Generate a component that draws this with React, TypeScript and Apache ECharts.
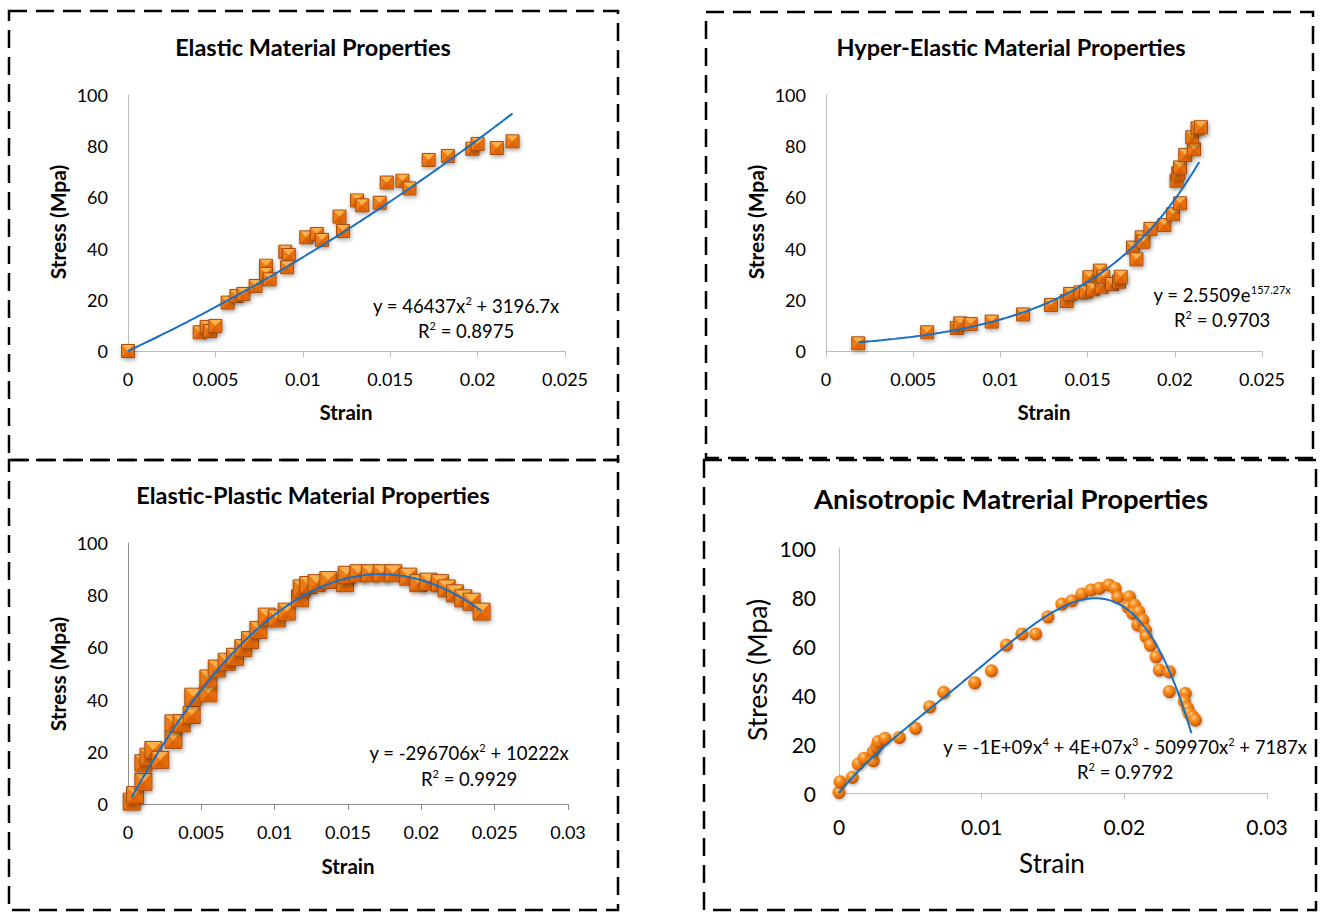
import React, { useEffect, useRef } from "react";
import * as echarts from "echarts";

const FONT = "Lato, 'Open Sans', sans-serif";

// ---------- Elastic Material Properties ----------
const elasticStrain = [0, 0.0041, 0.0045, 0.0047, 0.005, 0.0057, 0.0062, 0.0066, 0.0073, 0.0079, 0.0079, 0.0081, 0.009, 0.0092, 0.0091, 0.0102, 0.0108, 0.0111, 0.0121, 0.0123, 0.0131, 0.0134, 0.0144, 0.0148, 0.0157, 0.0161, 0.0172, 0.0183, 0.0197, 0.02, 0.0211, 0.022];
const elasticStress = [0, 7.3, 9.4, 7.8, 9.8, 18.9, 21.5, 22.3, 25.4, 33.3, 30.1, 28.0, 38.8, 37.5, 32.7, 44.4, 45.7, 43.4, 52.5, 46.9, 58.8, 56.9, 57.9, 65.8, 66.5, 63.5, 74.6, 76.2, 79.0, 80.9, 79.3, 81.9];
const elasticFit = [46437, 3196.7, 0]; // y = 46437x² + 3196.7x
const elasticFitRange = [0, 0.022];

// ---------- Hyper-Elastic Material Properties ----------
const hyperStrain = [0.00185, 0.0058, 0.0075, 0.0077, 0.0083, 0.0095, 0.0113, 0.0129, 0.0138, 0.014, 0.0146, 0.0149, 0.0151, 0.0153, 0.0157, 0.0158, 0.0159, 0.0164, 0.0168, 0.0169, 0.0176, 0.0178, 0.0181, 0.0182, 0.0186, 0.0194, 0.0199, 0.0203, 0.0201, 0.0202, 0.0203, 0.0206, 0.0211, 0.021, 0.0213, 0.0215];
const hyperStress = [3.0, 7.3, 9.0, 10.8, 10.5, 11.5, 14.3, 18.0, 19.5, 22.3, 22.9, 23.2, 28.8, 24.1, 31.4, 25.1, 29.0, 26.2, 27.1, 29.0, 40.4, 35.8, 44.4, 42.7, 47.7, 49.2, 53.4, 57.7, 66.5, 69.4, 71.7, 76.6, 78.8, 83.5, 87.0, 87.4];
const hyperFit = [2.5509, 157.27]; // y = 2.5509e^(157.27x)
const hyperFitRange = [0.00185, 0.0214];

// ---------- Elastic-Plastic Material Properties ----------
const plasticStrain = [0.00025, 0.00048, 0.00105, 0.00105, 0.0014, 0.00173, 0.0022, 0.0031, 0.0031, 0.00366, 0.00434, 0.00445, 0.00548, 0.00548, 0.00605, 0.00673, 0.0073, 0.00786, 0.00832, 0.00889, 0.00946, 0.01014, 0.01082, 0.01173, 0.01184, 0.01229, 0.01286, 0.01366, 0.0148, 0.01491, 0.01571, 0.0165, 0.0173, 0.01809, 0.01911, 0.0198, 0.02048, 0.02127, 0.02173, 0.02229, 0.02286, 0.02343, 0.02411];
const plasticStress = [0.9, 3.4, 8.5, 15.6, 18.1, 20.7, 16.9, 24.5, 30.9, 30.9, 34.1, 41.1, 42.4, 48.1, 51.9, 54.5, 56.4, 59.7, 62.8, 66.7, 71.8, 71.1, 73.7, 78.8, 82.6, 83.9, 84.6, 85.8, 84.6, 87.8, 88.4, 88.4, 88.4, 88.4, 87.1, 84.6, 85.2, 84.6, 82.6, 80.7, 78.8, 77.5, 73.7];
const plasticFit = [-296706, 10222, 0]; // y = -296706x² + 10222x
const plasticFitRange = [0.00025, 0.0241];

// ---------- Anisotropic Matrerial Properties ----------
const anisoStrain = [0.0, 0.00007, 0.00093, 0.00135, 0.00175, 0.0024, 0.0024, 0.00264, 0.00275, 0.00322, 0.00422, 0.00536, 0.00636, 0.00734, 0.00951, 0.01068, 0.01173, 0.01282, 0.01378, 0.01464, 0.01562, 0.01632, 0.01702, 0.01767, 0.01825, 0.01891, 0.01935, 0.01954, 0.02035, 0.02024, 0.02071, 0.02059, 0.02101, 0.02094, 0.02129, 0.02148, 0.02152, 0.02182, 0.02222, 0.02245, 0.02315, 0.02315, 0.02427, 0.0242, 0.02443, 0.02455, 0.02478, 0.02497];
const anisoStress = [0.3, 4.6, 6.4, 11.8, 14.2, 13.2, 16.9, 18.9, 21.0, 22.3, 22.7, 26.4, 35.2, 41.1, 45.0, 49.9, 60.4, 64.9, 64.9, 71.9, 77.1, 78.5, 81.2, 82.9, 83.6, 84.9, 83.6, 79.9, 80.1, 76.0, 76.7, 73.3, 74.0, 68.6, 70.6, 66.5, 63.8, 60.4, 55.6, 50.2, 49.5, 41.4, 40.7, 37.3, 34.6, 32.5, 31.2, 29.8];
// quartic trend (shown rounded as -1E+09x⁴ + 4E+07x³ - 509970x² + 7187x)
const anisoFit = [-1.3876e9, 4.4759e7, -509970, 7187, 0];
const anisoFitRange = [0, 0.0247];

const chartTitles = ["Elastic Material Properties", "Hyper-Elastic Material Properties", "Elastic-Plastic Material Properties", "Anisotropic Matrerial Properties"];
const xMax = [0.025, 0.025, 0.03, 0.03];
const xStep = [0.005, 0.005, 0.005, 0.01];
const yMax = 100;
const yStep = 20;

const zip = (xs: number[], ys: number[]) => xs.map((x, i) => [x, ys[i]]);
const poly = (c: number[]) => (x: number) => c.reduce((acc, k) => acc * x + k, 0);
const expo = (c: number[]) => (x: number) => c[0] * Math.exp(c[1] * x);
const curve = (f: (x: number) => number, r: number[], n = 150) =>
  Array.from({ length: n + 1 }, (_, i) => {
    const x = r[0] + ((r[1] - r[0]) * i) / n;
    return [x, f(x)];
  });

function bevelSquare(size: number) {
  return (_params: any, api: any) => {
    const p = api.coord([api.value(0), api.value(1)]);
    const cx = p[0];
    const cy = p[1];
    const h = size / 2;
    const l = cx - h, r = cx + h, t = cy - h, b = cy + h;
    return {
      type: "group",
      children: [
        {
          type: "rect",
          shape: { x: l, y: t, width: size, height: size },
          style: { fill: "#ee7a14", stroke: "#a64d10", lineWidth: 1, shadowBlur: 4, shadowOffsetX: 1, shadowOffsetY: 2, shadowColor: "rgba(0,0,0,0.35)" },
        },
        { type: "polygon", shape: { points: [[l + 0.6, t + 0.6], [r - 0.6, t + 0.6], [cx, cy]] }, style: { fill: "#fbb24c" } },
        { type: "polygon", shape: { points: [[r - 0.6, t + 0.6], [r - 0.6, b - 0.6], [cx, cy]] }, style: { fill: "#e76d0c" } },
        { type: "polygon", shape: { points: [[l + 0.6, b - 0.6], [r - 0.6, b - 0.6], [cx, cy]] }, style: { fill: "#dc6206" } },
      ],
    };
  };
}

const grids = [
  { left: 128, top: 95, width: 437, height: 256 },
  { left: 826, top: 95, width: 436, height: 256 },
  { left: 128, top: 543, width: 440, height: 261 },
  { left: 839, top: 548, width: 428, height: 245 },
];
const axisGray = ["#bdbdbd", "#bdbdbd", "#8c8c8c", "#bdbdbd"];
const tickFont = [18, 18, 18, 21];
const xLabelMargin = [19, 19, 19, 23];
const yLabelMargin = [20, 20, 20, 23];

function txt(x: number, y: number, text: string, fontSize: number, bold: boolean, rotation = 0) {
  return {
    type: "text",
    x,
    y,
    rotation,
    style: {
      text,
      fontFamily: FONT,
      fontSize,
      fontWeight: bold ? "bold" : "normal",
      fill: "#000",
      align: "center",
      verticalAlign: "middle",
      textAlign: "center",
      textVerticalAlign: "middle",
    },
  };
}

function rich(x: number, y: number, text: string, fontSize: number) {
  const base = { fontFamily: FONT, fontSize, fill: "#000", color: "#000", lineHeight: fontSize + 4 };
  return {
    type: "text",
    x,
    y,
    style: {
      text,
      align: "center",
      verticalAlign: "middle",
      textAlign: "center",
      textVerticalAlign: "middle",
      rich: {
        n: base,
        s: { fontFamily: FONT, fontSize: Math.round(fontSize * 0.62), fill: "#000", color: "#000", lineHeight: Math.round(fontSize * 0.7), verticalAlign: "top" },
      },
    },
  };
}

function box(x: number, y: number, w: number, h: number) {
  return {
    type: "rect",
    shape: { x, y, width: w, height: h },
    style: { fill: "none", stroke: "#000", lineWidth: 2.5, lineDash: [18, 9] },
    silent: true,
  };
}

export default function App() {
  const ref = useRef<HTMLDivElement>(null);
  useEffect(() => {
    if (!ref.current) return;
    const chart = echarts.init(ref.current, undefined, { renderer: "svg" });
    const xAxis = grids.map((_, i) => ({
      type: "value",
      gridIndex: i,
      min: 0,
      max: xMax[i],
      interval: xStep[i],
      axisLine: { show: true, onZero: false, lineStyle: { color: axisGray[i], width: 1 } },
      axisTick: { show: true, length: 6, lineStyle: { color: axisGray[i] } },
      splitLine: { show: false },
      axisLabel: {
        fontFamily: FONT,
        fontSize: tickFont[i],
        color: "#000",
        margin: xLabelMargin[i],
        formatter: (v: number) => String(parseFloat(v.toFixed(4))),
      },
    }));
    const yAxis = grids.map((_, i) => ({
      type: "value",
      gridIndex: i,
      min: 0,
      max: yMax,
      interval: yStep,
      axisLine: { show: true, lineStyle: { color: axisGray[i], width: 1 } },
      axisTick: { show: false },
      splitLine: { show: false },
      axisLabel: { fontFamily: FONT, fontSize: tickFont[i], color: "#000", margin: yLabelMargin[i] },
    }));
    const trend = (i: number, data: number[][]) => ({
      type: "line",
      xAxisIndex: i,
      yAxisIndex: i,
      data,
      showSymbol: false,
      symbol: "none",
      smooth: false,
      silent: true,
      lineStyle: { color: "#1b6fc2", width: 2 },
      z: 5,
    });
    const squares = (i: number, data: number[][], size: number) => ({
      type: "custom",
      coordinateSystem: "cartesian2d",
      xAxisIndex: i,
      yAxisIndex: i,
      data,
      encode: { x: 0, y: 1 },
      renderItem: bevelSquare(size),
      silent: true,
      z: 3,
    });
    const sphereFill = {
      type: "radial",
      x: 0.38,
      y: 0.32,
      r: 0.72,
      colorStops: [
        { offset: 0, color: "#ffd49a" },
        { offset: 0.3, color: "#fb9529" },
        { offset: 0.75, color: "#e56b05" },
        { offset: 1, color: "#a94500" },
      ],
    };
    chart.setOption({
      animation: false,
      backgroundColor: "#ffffff",
      grid: grids,
      xAxis,
      yAxis,
      series: [
        squares(0, zip(elasticStrain, elasticStress), 13),
        trend(0, curve(poly(elasticFit), elasticFitRange)),
        squares(1, zip(hyperStrain, hyperStress), 13),
        trend(1, curve(expo(hyperFit), hyperFitRange)),
        squares(2, zip(plasticStrain, plasticStress), 17),
        trend(2, curve(poly(plasticFit), plasticFitRange)),
        {
          type: "scatter",
          xAxisIndex: 3,
          yAxisIndex: 3,
          data: zip(anisoStrain, anisoStress),
          symbol: "circle",
          symbolSize: 13,
          silent: true,
          z: 3,
          itemStyle: { color: sphereFill, opacity: 1, shadowBlur: 3, shadowOffsetX: 1, shadowOffsetY: 1.5, shadowColor: "rgba(0,0,0,0.3)" },
        },
        trend(3, curve(poly(anisoFit), anisoFitRange)),
      ],
      graphic: [
        box(9, 11, 609, 449),
        box(706, 12, 607, 446),
        box(9, 460, 609, 450),
        box(704, 460, 612, 450),
        txt(313, 47, chartTitles[0], 23.5, true),
        txt(1011, 47, chartTitles[1], 23.5, true),
        txt(313, 495, chartTitles[2], 23.5, true),
        txt(1011, 498, chartTitles[3], 27.5, true),
        txt(57, 222, "Stress (Mpa)", 21, true, Math.PI / 2),
        txt(755, 222, "Stress (Mpa)", 21, true, Math.PI / 2),
        txt(57, 674, "Stress (Mpa)", 21, true, Math.PI / 2),
        txt(757, 670, "Stress (Mpa)", 26.5, false, Math.PI / 2),
        txt(346, 412, "Strain", 20.5, true),
        txt(1044, 412, "Strain", 20.5, true),
        txt(348, 866, "Strain", 20.5, true),
        txt(1052, 863, "Strain", 26, false),
        rich(466, 306, "{n|y = 46437x}{s|2}{n| + 3196.7x}", 18.5),
        rich(466, 331, "{n|R}{s|2}{n| = 0.8975}", 18.5),
        rich(1222, 295, "{n|y = 2.5509e}{s|157.27x}", 18.5),
        rich(1222, 320, "{n|R}{s|2}{n| = 0.9703}", 18.5),
        rich(469, 753, "{n|y = -296706x}{s|2}{n| + 10222x}", 18.5),
        rich(469, 779, "{n|R}{s|2}{n| = 0.9929}", 18.5),
        rich(1125, 747, "{n|y = -1E+09x}{s|4}{n| + 4E+07x}{s|3}{n| - 509970x}{s|2}{n| + 7187x}", 18.5),
        rich(1125, 772, "{n|R}{s|2}{n| = 0.9792}", 18.5),
      ],
    });
    return () => chart.dispose();
  }, []);
  return (
    <div
      ref={ref}
      style={{ position: "absolute", left: 0, top: 0, width: 1320, height: 912, background: "#fff" }}
    />
  );
}
